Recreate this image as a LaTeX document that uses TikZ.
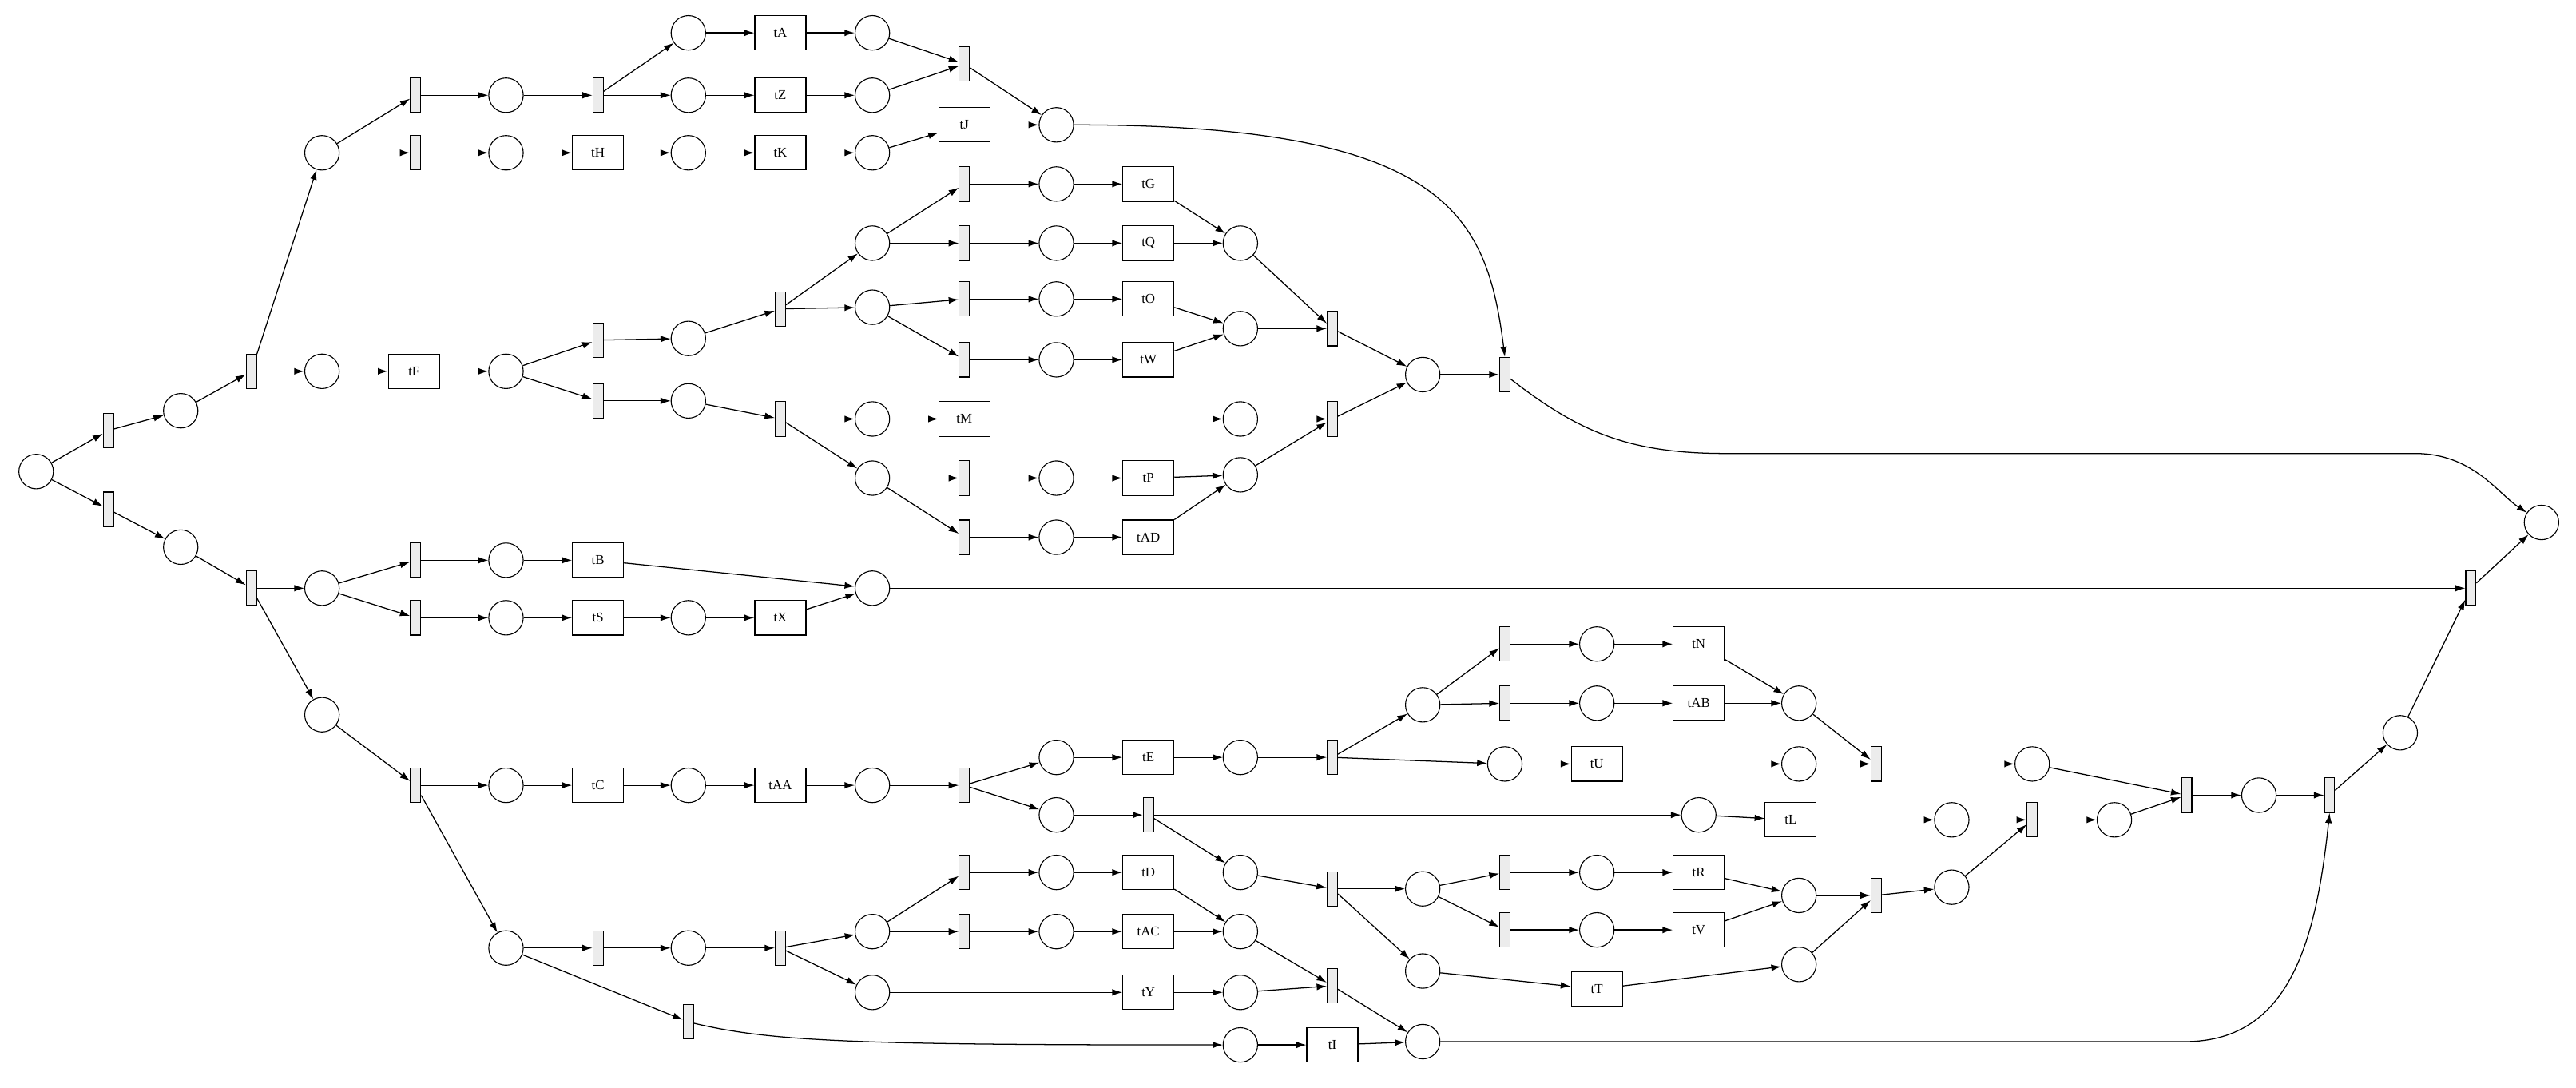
\documentclass[tikz,border=0pt]{standalone}
\usepackage{fontspec}
\setmainfont{Liberation Serif}
\usetikzlibrary{arrows.meta}
\begin{document}
\begin{tikzpicture}[x=0.0514cm,y=-0.0514cm,
 pl/.style={circle,draw,line width=0.8pt,minimum size=1.08cm,inner sep=0pt},
 br/.style={rectangle,draw,fill=gray!15,line width=0.8pt,minimum width=0.32cm,minimum height=1.08cm,inner sep=0pt},
 bx/.style={rectangle,draw,fill=white,line width=0.8pt,minimum width=1.6cm,minimum height=1.08cm,inner sep=0pt,font=\fontsize{12}{14}\selectfont},
 a/.style={-{Latex[length=9pt,width=6pt]},line width=0.9pt}]
\useasboundingbox (0,0) rectangle (1568,662);
\node[pl] (p0) at (22,287) {};
\node[br] (t1) at (66,262) {}; \node[br] (t2) at (66,310) {};
\node[pl] (p1) at (110,250) {}; \node[pl] (p2) at (110,333) {};
\node[br] (t3) at (153,226) {}; \node[br] (t4) at (153,358) {};
\node[pl] (p3) at (196,93) {}; \node[pl] (p4) at (196,226) {};
\node[br] (t5) at (253,58) {}; \node[br] (t6) at (253,93) {};
\node[pl] (p5) at (308,58) {}; \node[br] (t7) at (364,58) {};
\node[pl] (p6) at (419,20) {}; \node[pl] (p7) at (419,58) {};
\node[bx] (tA) at (475,20) {tA}; \node[bx] (tZ) at (475,58) {tZ};
\node[pl] (p8) at (531,20) {}; \node[pl] (p9) at (531,58) {};
\node[br] (t8) at (587,39) {}; \node[pl] (p10) at (643,76) {};
\node[pl] (p11) at (308,93) {}; \node[bx] (tH) at (364,93) {tH};
\node[pl] (p12) at (419,93) {}; \node[bx] (tK) at (475,93) {tK};
\node[pl] (p13) at (531,93) {}; \node[bx] (tJ) at (587,76) {tJ};
\node[br] (t9) at (916,228) {};
\node[bx] (tF) at (252,226) {tF}; \node[pl] (p14) at (308,226) {};
\node[br] (t10) at (364,207) {}; \node[br] (t11) at (364,244) {};
\node[pl] (p15) at (419,206) {}; \node[br] (t12) at (475,188) {};
\node[pl] (p16) at (531,148) {}; \node[pl] (p17) at (531,187) {};
\node[br] (t13) at (587,112) {}; \node[br] (t14) at (587,148) {};
\node[pl] (p18) at (643,112) {}; \node[bx] (tG) at (699,112) {tG};
\node[pl] (p19) at (643,148) {}; \node[bx] (tQ) at (699,148) {tQ};
\node[pl] (p20) at (755,148) {};
\node[br] (t15) at (587,182) {}; \node[br] (t16) at (587,219) {};
\node[pl] (p21) at (643,182) {}; \node[bx] (tO) at (699,182) {tO};
\node[pl] (p23) at (643,219) {}; \node[bx] (tW) at (699,219) {tW};
\node[pl] (p22) at (755,200) {};
\node[br] (t17) at (811,200) {}; \node[pl] (p24) at (866,228) {};
\node[pl] (p25) at (419,244) {}; \node[br] (t18) at (475,255) {};
\node[pl] (p26) at (531,255) {}; \node[bx] (tM) at (587,255) {tM};
\node[pl] (p27) at (755,255) {}; \node[br] (t19) at (811,255) {};
\node[pl] (p28) at (531,291) {}; \node[br] (t20) at (587,291) {};
\node[pl] (p29) at (643,291) {}; \node[bx] (tP) at (699,291) {tP};
\node[pl] (p30) at (755,289) {};
\node[br] (t21) at (587,327) {}; \node[pl] (p31) at (643,327) {};
\node[bx] (tAD) at (699,327) {tAD};
\node[pl] (pE) at (1547,318) {};
\node[pl] (p32) at (196,358) {};
\node[br] (t22) at (253,341) {}; \node[br] (t23) at (253,376) {};
\node[pl] (p33) at (308,341) {}; \node[bx] (tB) at (364,341) {tB};
\node[pl] (p34) at (308,376) {}; \node[bx] (tS) at (364,376) {tS};
\node[pl] (p36) at (419,376) {}; \node[bx] (tX) at (475,376) {tX};
\node[pl] (p35) at (531,358) {}; \node[br] (t24) at (1504,358) {};
\node[pl] (p37) at (196,435) {}; \node[br] (t25) at (253,478) {};
\node[pl] (p38) at (308,478) {}; \node[bx] (tC) at (364,478) {tC};
\node[pl] (p39) at (419,478) {}; \node[bx] (tAA) at (475,478) {tAA};
\node[pl] (p40) at (531,478) {}; \node[br] (t26) at (587,478) {};
\node[pl] (p41) at (643,461) {}; \node[pl] (p42) at (643,496) {};
\node[bx] (tE) at (699,461) {tE}; \node[pl] (p43) at (755,461) {};
\node[br] (t27) at (811,461) {};
\node[pl] (p44) at (866,429) {}; \node[pl] (p45) at (916,465) {};
\node[br] (t28) at (916,392) {}; \node[br] (t29) at (916,428) {};
\node[pl] (p46) at (972,392) {}; \node[bx] (tN) at (1034,392) {tN};
\node[pl] (p47) at (972,428) {}; \node[bx] (tAB) at (1034,428) {tAB};
\node[pl] (p48) at (1095,428) {};
\node[bx] (tU) at (972,465) {tU}; \node[pl] (p49) at (1095,465) {};
\node[br] (t30) at (1142,465) {}; \node[pl] (p50) at (1237,465) {};
\node[br] (t31) at (1331,484) {};
\node[br] (t32) at (699,496) {}; \node[pl] (p51) at (1034,496) {};
\node[bx] (tL) at (1090,499) {tL}; \node[pl] (p52) at (1188,499) {};
\node[br] (t33) at (1237,499) {}; \node[pl] (p53) at (1287,499) {};
\node[pl] (p54) at (755,531) {}; \node[br] (t34) at (811,541) {};
\node[pl] (p55) at (866,541) {};
\node[br] (t35) at (916,531) {}; \node[br] (t36) at (916,566) {};
\node[pl] (p56) at (972,531) {}; \node[bx] (tR) at (1034,531) {tR};
\node[pl] (p57) at (972,566) {}; \node[bx] (tV) at (1034,566) {tV};
\node[pl] (p58) at (1095,545) {}; \node[br] (t37) at (1142,545) {};
\node[pl] (p59) at (1188,540) {};
\node[pl] (p60) at (866,591) {}; \node[bx] (tT) at (972,602) {tT};
\node[pl] (p61) at (1095,587) {};
\node[pl] (p62) at (1375,484) {}; \node[br] (t38) at (1418,484) {};
\node[pl] (p63) at (1461,446) {};
\node[pl] (p64) at (308,577) {}; \node[br] (t39) at (364,577) {};
\node[pl] (p65) at (419,577) {}; \node[br] (t40) at (475,577) {};
\node[pl] (p66) at (531,567) {}; \node[pl] (p67) at (531,604) {};
\node[br] (t41) at (587,531) {}; \node[pl] (p68) at (643,531) {};
\node[bx] (tD) at (699,531) {tD}; \node[pl] (p69) at (755,567) {};
\node[br] (t42) at (587,567) {}; \node[pl] (p70) at (643,567) {};
\node[bx] (tAC) at (699,567) {tAC};
\node[bx] (tY) at (699,604) {tY}; \node[pl] (p71) at (755,604) {};
\node[br] (t43) at (811,600) {}; \node[pl] (p72) at (866,634) {};
\node[br] (t44) at (419,622) {}; \node[pl] (p73) at (755,636) {};
\node[bx] (tI) at (811,636) {tI};
\foreach \u/\v in {p0/t1,p0/t2,t1/p1,t2/p2,p1/t3,p2/t4,t3/p3,t3/p4,p3/t5,p3/t6,
 t5/p5,p5/t7,t7/p6,t7/p7,p6/tA,p7/tZ,tA/p8,tZ/p9,p8/t8,p9/t8,t8/p10,
 t6/p11,p11/tH,tH/p12,p12/tK,tK/p13,p13/tJ,tJ/p10,
 p4/tF,tF/p14,p14/t10,p14/t11,t10/p15,p15/t12,t12/p16,t12/p17,
 p16/t13,p16/t14,t13/p18,p18/tG,tG/p20,t14/p19,p19/tQ,tQ/p20,
 p17/t15,p17/t16,t15/p21,p21/tO,tO/p22,t16/p23,p23/tW,tW/p22,
 p20/t17,p22/t17,t17/p24,p24/t9,
 t11/p25,p25/t18,t18/p26,p26/tM,tM/p27,p27/t19,t19/p24,
 t18/p28,p28/t20,t20/p29,p29/tP,tP/p30,p28/t21,t21/p31,p31/tAD,tAD/p30,p30/t19,
 t4/p32,p32/t22,p32/t23,t22/p33,p33/tB,tB/p35,t23/p34,p34/tS,tS/p36,p36/tX,tX/p35,
 p35/t24,t24/pE,
 t4/p37,p37/t25,t25/p38,p38/tC,tC/p39,p39/tAA,tAA/p40,p40/t26,t26/p41,t26/p42,
 p41/tE,tE/p43,p43/t27,t27/p44,t27/p45,p44/t28,p44/t29,t28/p46,p46/tN,tN/p48,
 t29/p47,p47/tAB,tAB/p48,p45/tU,tU/p49,p49/t30,p48/t30,t30/p50,p50/t31,
 p42/t32,t32/p51,p51/tL,tL/p52,p52/t33,t33/p53,p53/t31,
 t32/p54,p54/t34,t34/p55,p55/t35,p55/t36,t35/p56,p56/tR,tR/p58,t36/p57,p57/tV,tV/p58,
 p58/t37,t37/p59,p59/t33,t34/p60,p60/tT,tT/p61,p61/t37,
 t31/p62,p62/t38,t38/p63,p63/t24,
 t25/p64,p64/t39,t39/p65,p65/t40,t40/p66,t40/p67,p66/t41,p66/t42,
 t41/p68,p68/tD,tD/p69,t42/p70,p70/tAC,tAC/p69,p67/tY,tY/p71,p69/t43,p71/t43,t43/p72,
 p64/t44,p73/tI,tI/p72}
 \draw[a] (\u) -- (\v);
\draw[a] (p10) .. controls (880,76) and (905,130) .. (t9.north);
\draw[a] (t9) .. controls (960,262) and (990,276) .. (1050,276) -- (1470,276) .. controls (1505,276) and (1520,300) .. (pE);
\draw[a] (t44) .. controls (470,634) and (520,636) .. (p73);
\draw[a] (p72) -- (1330,634) .. controls (1395,634) and (1410,570) .. (t38.south);
\end{tikzpicture}
\end{document}
